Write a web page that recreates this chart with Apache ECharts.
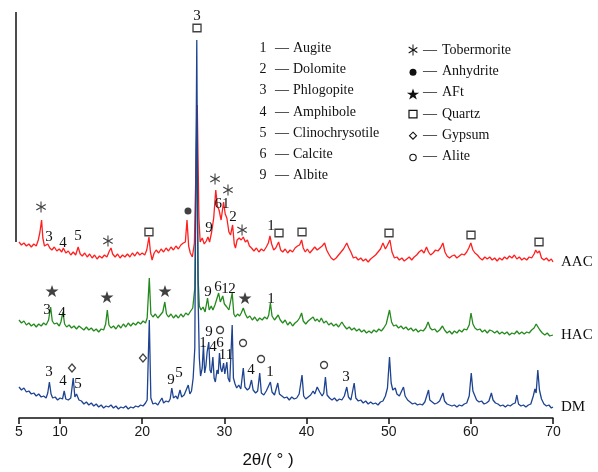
<!DOCTYPE html>
<html><head><meta charset="utf-8">
<script src="https://cdn.jsdelivr.net/npm/echarts@6/dist/echarts.min.js"></script>
<style>html,body{margin:0;padding:0;background:#fff}#c{width:598px;height:472px}</style>
</head><body><div id="c"></div><script>
// 2θ tick positions
const xTicks=[5,10,20,30,40,50,60,70];
// Intensities (arbitrary units, offset traces)
const dmData=[[5,31],[5.3,28],[5.6,30],[5.9,26],[6.2,27],[6.5,24],[6.8,25],[7.1,22],[7.4,24],[7.7,21],[8.0,22],[8.3,20],[8.5,25],[8.7,36],[8.9,24],[9.1,20],[9.4,21],[9.7,18],[10.0,20],[10.3,19],[10.5,27],[10.7,19],[11.0,18],[11.3,20],[11.6,40],[11.8,21],[12.0,24],[12.3,18],[12.6,17],[12.9,14],[13.2,16],[13.5,13],[13.8,15],[14.1,12],[14.4,14],[14.7,11],[15.0,13],[15.3,10],[15.6,12],[15.9,11],[16.2,13],[16.5,10],[16.8,12],[17.1,9],[17.4,11],[17.7,10],[18.0,12],[18.3,9],[18.6,11],[18.9,10],[19.2,12],[19.5,11],[19.8,13],[20.1,12],[20.4,15],[20.6,18],[20.86,98],[21.05,20],[21.3,14],[21.6,15],[21.9,13],[22.1,16],[22.4,20],[22.6,15],[22.9,17],[23.2,16],[23.4,19],[23.6,30],[23.8,20],[24.1,22],[24.3,19],[24.6,28],[24.8,21],[25.1,23],[25.3,21],[25.6,33],[25.8,24],[26.0,27],[26.2,40],[26.4,70],[26.64,378],[26.8,120],[26.95,60],[27.1,42],[27.3,50],[27.45,73],[27.6,45],[27.75,52],[27.9,66],[28.1,76],[28.25,48],[28.4,45],[28.6,61],[28.75,40],[28.9,36],[29.1,48],[29.25,44],[29.4,65],[29.55,50],[29.7,46],[29.9,55],[30.05,44],[30.3,56],[30.45,40],[30.65,36],[30.95,93],[31.1,40],[31.3,34],[31.5,30],[31.75,33],[32.0,29],[32.3,50],[32.5,31],[32.8,28],[33.05,30],[33.3,38],[33.5,28],[33.8,25],[34.05,27],[34.3,45],[34.5,25],[34.8,23],[35.1,27],[35.3,25],[35.6,36],[35.8,26],[36.1,23],[36.5,35],[36.7,24],[37.0,22],[37.3,20],[37.6,21],[37.9,18],[38.2,21],[38.5,19],[38.8,20],[39.1,24],[39.45,43],[39.65,22],[39.9,19],[40.2,21],[40.5,23],[40.8,27],[41.0,24],[41.3,31],[41.6,26],[41.9,22],[42.1,25],[42.3,41],[42.5,23],[42.8,20],[43.1,18],[43.4,20],[43.7,17],[44.0,19],[44.3,18],[44.6,22],[44.9,31],[45.1,21],[45.4,18],[45.8,35],[46.0,20],[46.3,17],[46.6,18],[46.9,15],[47.2,17],[47.5,14],[47.8,16],[48.1,14],[48.4,15],[48.7,13],[49.0,16],[49.3,17],[49.6,22],[49.85,30],[50.1,61],[50.3,35],[50.5,28],[50.8,30],[51.0,24],[51.3,22],[51.5,24],[51.8,31],[52.0,22],[52.3,18],[52.6,16],[52.9,14],[53.2,15],[53.5,13],[53.8,14],[54.1,13],[54.4,16],[54.85,28],[55.0,18],[55.3,16],[55.6,14],[55.9,15],[56.2,17],[56.6,25],[56.8,17],[57.1,14],[57.4,13],[57.7,12],[58.0,13],[58.3,11],[58.6,13],[58.9,12],[59.2,14],[59.5,15],[59.8,22],[60.05,45],[60.25,27],[60.5,22],[60.7,18],[61.0,16],[61.3,17],[61.6,14],[61.9,15],[62.2,17],[62.5,25],[62.7,18],[63.0,15],[63.3,14],[63.6,12],[63.9,13],[64.2,11],[64.5,13],[64.8,12],[65.1,14],[65.4,15],[65.6,23],[65.8,14],[66.1,12],[66.4,13],[66.7,11],[67.0,13],[67.3,14],[67.6,22],[67.8,29],[67.95,25],[68.15,48],[68.35,28],[68.6,19],[68.9,14],[69.2,12],[69.5,13],[69.8,10],[70,11]];
const hacData=[[5,98],[5.3,95],[5.6,97],[5.9,93],[6.2,95],[6.5,92],[6.8,94],[7.1,91],[7.4,94],[7.7,92],[8.0,95],[8.3,93],[8.6,98],[8.85,111],[9.05,97],[9.3,94],[9.6,95],[9.9,92],[10.1,96],[10.35,106],[10.55,94],[10.8,91],[11.1,93],[11.4,90],[11.7,92],[12.0,89],[12.3,92],[12.6,90],[12.9,88],[13.2,91],[13.5,88],[13.8,90],[14.1,87],[14.4,89],[14.7,86],[15.0,89],[15.3,88],[15.55,94],[15.75,108],[15.95,93],[16.2,90],[16.5,92],[16.8,89],[17.1,93],[17.4,90],[17.7,94],[18.0,91],[18.3,95],[18.6,92],[18.9,95],[19.2,93],[19.5,96],[19.8,94],[20.1,97],[20.4,95],[20.6,100],[20.86,140],[21.05,104],[21.3,101],[21.6,104],[21.9,100],[22.2,103],[22.5,106],[22.75,116],[22.95,104],[23.2,101],[23.5,104],[23.8,100],[24.1,103],[24.4,100],[24.7,104],[25.0,101],[25.3,105],[25.6,103],[25.9,107],[26.15,110],[26.4,130],[26.62,300],[26.8,140],[26.95,112],[27.15,108],[27.4,111],[27.65,106],[27.95,120],[28.15,108],[28.4,112],[28.6,108],[28.85,113],[29.05,111],[29.3,125],[29.5,116],[29.8,122],[30.0,114],[30.3,111],[30.55,108],[30.75,110],[30.95,125],[31.15,104],[31.35,101],[31.6,104],[31.85,102],[32.05,105],[32.3,110],[32.55,104],[32.8,100],[33.1,102],[33.4,98],[33.7,101],[34.0,97],[34.3,100],[34.6,98],[34.9,101],[35.2,99],[35.4,103],[35.6,115],[35.8,102],[36.1,98],[36.3,97],[36.55,103],[36.8,98],[37.1,95],[37.4,98],[37.7,93],[38.0,96],[38.3,92],[38.6,95],[38.9,97],[39.15,100],[39.4,105],[39.6,97],[39.9,94],[40.2,97],[40.5,99],[40.8,101],[41.05,97],[41.3,99],[41.55,96],[41.8,100],[42.1,95],[42.4,97],[42.7,93],[43.0,95],[43.3,92],[43.6,94],[43.9,91],[44.3,96],[44.6,92],[44.9,89],[45.2,91],[45.5,88],[45.8,90],[46.1,87],[46.4,89],[46.7,86],[47.0,88],[47.3,85],[47.6,87],[47.9,85],[48.2,88],[48.5,86],[48.8,89],[49.1,87],[49.4,90],[49.7,94],[50.1,108],[50.35,96],[50.6,92],[50.9,93],[51.2,90],[51.5,92],[51.8,89],[52.1,91],[52.4,88],[52.7,90],[53.0,87],[53.3,89],[53.6,86],[53.9,88],[54.2,87],[54.5,90],[54.8,96],[55.05,90],[55.3,88],[55.6,89],[55.9,86],[56.2,88],[56.55,92],[56.8,88],[57.1,85],[57.4,87],[57.7,84],[58.0,87],[58.3,85],[58.6,88],[58.9,86],[59.2,89],[59.5,88],[59.8,93],[60.02,105],[60.25,94],[60.5,90],[60.8,88],[61.1,89],[61.4,86],[61.7,88],[62.0,85],[62.3,88],[62.6,87],[62.9,85],[63.2,87],[63.5,84],[63.8,86],[64.1,84],[64.4,86],[64.7,83],[65.0,85],[65.3,84],[65.6,87],[65.9,84],[66.2,86],[66.5,84],[66.8,86],[67.1,85],[67.4,88],[67.7,90],[67.95,94],[68.15,92],[68.4,88],[68.7,85],[69.0,83],[69.3,85],[69.6,82],[70,83]];
const aacData=[[5,176],[5.3,173],[5.6,175],[5.9,172],[6.2,174],[6.5,171],[6.8,174],[7.1,172],[7.35,178],[7.55,186],[7.75,198],[7.9,180],[8.1,172],[8.3,170],[8.5,174],[8.75,170],[9.0,168],[9.3,171],[9.6,167],[9.9,169],[10.2,166],[10.4,170],[10.7,165],[11.0,167],[11.3,163],[11.6,166],[11.9,163],[12.2,171],[12.45,164],[12.7,162],[13.0,165],[13.3,161],[13.6,164],[13.9,160],[14.2,163],[14.5,159],[14.8,162],[15.1,160],[15.4,163],[15.7,161],[16.0,167],[16.2,170],[16.4,164],[16.7,161],[17.0,164],[17.3,160],[17.6,163],[17.9,161],[18.2,164],[18.5,161],[18.8,165],[19.1,162],[19.4,166],[19.7,163],[20.0,165],[20.3,163],[20.55,168],[20.82,181],[21.0,166],[21.2,158],[21.45,165],[21.7,168],[22.0,165],[22.3,169],[22.6,166],[22.9,170],[23.2,167],[23.5,171],[23.8,168],[24.1,172],[24.4,169],[24.7,173],[25.0,175],[25.25,176],[25.45,198],[25.65,172],[25.85,165],[26.1,161],[26.35,175],[26.7,313],[26.9,200],[27.05,176],[27.3,180],[27.55,174],[27.8,177],[28.0,181],[28.2,176],[28.45,186],[28.7,200],[28.95,228],[29.15,212],[29.35,208],[29.6,198],[29.9,216],[30.1,204],[30.3,200],[30.55,186],[30.75,183],[31.0,193],[31.2,174],[31.35,170],[31.55,178],[31.8,180],[32.05,178],[32.3,181],[32.55,176],[32.8,178],[33.05,172],[33.3,170],[33.6,167],[33.9,170],[34.2,166],[34.5,169],[34.8,167],[35.1,171],[35.35,175],[35.55,182],[35.75,174],[36.0,168],[36.25,170],[36.6,176],[36.85,168],[37.1,166],[37.4,169],[37.7,165],[38.0,168],[38.3,166],[38.6,170],[38.9,172],[39.15,173],[39.4,178],[39.6,170],[39.85,166],[40.1,169],[40.4,165],[40.7,168],[41.0,171],[41.3,168],[41.6,170],[41.9,172],[42.2,175],[42.45,168],[42.7,164],[43.0,160],[43.3,158],[43.6,160],[43.9,163],[44.2,166],[44.5,169],[44.9,175],[45.15,170],[45.4,166],[45.7,160],[46.0,161],[46.3,158],[46.6,160],[46.9,157],[47.2,159],[47.5,156],[47.8,159],[48.1,161],[48.4,163],[48.7,166],[49.0,169],[49.3,175],[49.6,169],[49.8,172],[50.15,178],[50.4,166],[50.7,160],[51.0,161],[51.3,158],[51.6,160],[51.9,157],[52.2,159],[52.5,161],[52.8,158],[53.1,161],[53.4,163],[53.7,166],[54.0,168],[54.3,165],[54.6,171],[54.85,166],[55.1,163],[55.4,165],[55.7,168],[56.0,167],[56.3,170],[56.6,175],[56.85,166],[57.1,162],[57.4,160],[57.7,162],[58.0,163],[58.3,160],[58.6,162],[58.9,164],[59.2,163],[59.5,166],[59.75,170],[60.0,175],[60.25,168],[60.5,165],[60.8,163],[61.1,160],[61.4,158],[61.7,161],[62.0,159],[62.3,161],[62.6,158],[62.9,160],[63.2,157],[63.5,160],[63.8,158],[64.1,161],[64.4,159],[64.7,162],[65.0,160],[65.3,163],[65.6,159],[65.9,161],[66.2,158],[66.5,160],[66.8,158],[67.1,161],[67.4,160],[67.7,164],[67.9,168],[68.1,165],[68.35,167],[68.6,160],[68.9,158],[69.2,160],[69.5,157],[69.8,159],[70,156]];
// Peak annotations: [2θ, height, text]
const numberMarks=[[26.67,402,'3'],
 [8.65,181,'3'],[10.36,175,'4'],[12.18,182,'5'],[28.13,190,'9'],[29.71,214,'61'],[31.05,201,'2'],[35.68,192,'1'],
 [8.41,108,'3'],[10.23,105,'4'],[28.01,126,'9'],[29.22,131,'6'],[30.08,129,'1'],[30.93,129,'2'],[35.68,119,'1'],
 [8.65,46,'3'],[10.36,37,'4'],[12.18,34,'5'],[23.50,38,'9'],[24.48,45,'5'],[27.40,75,'1'],[28.13,86,'9'],[28.62,71,'4'],[29.47,75,'6'],[30.20,63,'11'],[33.24,48,'4'],[35.55,46,'1'],[44.81,41,'3']];
const tobermoriteMarks=[[7.68,211],[15.83,177],[28.86,239],[30.44,228],[32.15,188]];
const anhydriteMarks=[[25.57,207]];
const aftMarks=[[9.02,127],[15.71,121],[22.77,127],[32.51,120]];
const quartzMarks=[[26.67,390],[20.82,186],[36.65,185],[39.45,186],[50.04,185],[60.02,183],[68.30,176]];
const gypsumMarks=[[11.45,50],[20.09,60]];
const aliteMarks=[[29.47,88],[32.27,75],[34.46,59],[42.13,53]];
// Key text
const phaseIds=['1','2','3','4','5','6','9'];
const phaseNames=['Augite','Dolomite','Phlogopite','Amphibole','Clinochrysotile','Calcite','Albite'];
const markerNames=['Tobermorite','Anhydrite','AFt','Quartz','Gypsum','Alite'];
const seriesNames=['DM','HAC','AAC'];

// Marker outlines in a 100x100 box
const asterBars=[[[45,0],[55,0],[55,100],[45,100]],[[4.2,27.6],[9.2,18.9],[95.8,68.9],[90.8,77.6]],[[90.8,22.4],[95.8,31.1],[9.2,81.1],[4.2,72.4]]];
const starPts=[[50,0],[61.23,34.55],[97.55,34.55],[68.17,55.9],[79.39,90.45],[50,69.1],[20.61,90.45],[31.83,55.9],[2.45,34.55],[38.77,34.55]];
const toPath=polys=>'path://'+polys.map(p=>'M'+p.map(q=>q[0]+' '+q[1]).join('L')+'Z').join(' ');
const ASTER=toPath(asterBars);
const STAR=toPath([starPts]);
const SERIF='"Liberation Serif","Times New Roman",serif';
const INK='#111';

function markSeries(data,symbol,size,filled){
  return {type:'scatter',data:data,symbol:symbol,symbolSize:size,z:5,clip:false,silent:true,
    itemStyle:filled?{color:INK,borderWidth:0}:{color:'#fff',borderColor:INK,borderWidth:1.3}};
}
const lineCommon={type:'line',showSymbol:false,symbol:'none',smooth:false,z:2,silent:true,
  endLabel:{show:true,formatter:'{a}',distance:8,fontFamily:SERIF,fontSize:15,color:INK}};

const chart=echarts.init(document.getElementById('c'),null,{renderer:'canvas'});
const graphics=[{type:'line',shape:{x1:16,y1:12,x2:16,y2:242},style:{stroke:INK,lineWidth:1.5}}];
phaseIds.forEach((id,i)=>{
  const y=48+21.3*i;
  graphics.push({type:'text',x:263,y:y,style:{text:id,fontFamily:SERIF,fontSize:14,fill:INK,align:'center',verticalAlign:'middle'}});
  graphics.push({type:'text',x:275,y:y,style:{text:'\u2014',fontFamily:SERIF,fontSize:14,fill:INK,align:'left',verticalAlign:'middle'}});
  graphics.push({type:'text',x:293,y:y,style:{text:phaseNames[i],fontFamily:SERIF,fontSize:14,fill:INK,align:'left',verticalAlign:'middle'}});
});
markerNames.forEach((nm,i)=>{
  const y=50+21.3*i;
  graphics.push({type:'text',x:423,y:y,style:{text:'\u2014',fontFamily:SERIF,fontSize:14,fill:INK,align:'left',verticalAlign:'middle'}});
  graphics.push({type:'text',x:442,y:y,style:{text:nm,fontFamily:SERIF,fontSize:14,fill:INK,align:'left',verticalAlign:'middle'}});
});
const ky=i=>50+21.3*i;
const place=(pts,x0,y0,w,h)=>pts.map(q=>[x0+q[0]*w/100,y0+q[1]*h/100]);
asterBars.forEach(b=>graphics.push({type:'polygon',shape:{points:place(b,408,ky(0)-5.5,10,11)},style:{fill:INK}}));
graphics.push({type:'circle',shape:{cx:413,cy:ky(1)+1,r:3.5},style:{fill:INK}});
graphics.push({type:'polygon',shape:{points:place(starPts,406.5,ky(2)-4,13,12)},style:{fill:INK}});
graphics.push({type:'rect',shape:{x:409,y:ky(3)-3.5,width:8,height:7.5},style:{fill:'#fff',stroke:INK,lineWidth:1.2}});
graphics.push({type:'polygon',shape:{points:[[413,ky(4)-3],[416.5,ky(4)+0.5],[413,ky(4)+4],[409.5,ky(4)+0.5]]},style:{fill:'#fff',stroke:INK,lineWidth:1.1}});
graphics.push({type:'circle',shape:{cx:413,cy:ky(5)+1,r:3.2},style:{fill:'#fff',stroke:INK,lineWidth:1.1}});

chart.setOption({
  animation:false,
  backgroundColor:'#fff',
  grid:{left:19,right:45,top:10,bottom:54,outerBoundsMode:'none',containLabel:false},
  xAxis:{type:'value',min:5,max:70,
    axisLine:{show:true,lineStyle:{color:INK,width:1.5}},
    axisTick:{show:true,customValues:xTicks,length:6,inside:false,lineStyle:{color:INK,width:1.5}},
    axisLabel:{customValues:xTicks,margin:7,fontFamily:'"Liberation Sans",Arial,sans-serif',fontSize:14,color:'#1a1a1a'},
    splitLine:{show:false},
    name:'2θ/( ° )',nameLocation:'middle',nameGap:34,
    nameTextStyle:{fontFamily:'"Liberation Sans",Arial,sans-serif',fontSize:17,color:INK,padding:[0,36,0,0]}},
  yAxis:{type:'value',min:0,max:408,show:false,splitLine:{show:false}},
  series:[
    Object.assign({},lineCommon,{name:seriesNames[1],data:hacData,lineStyle:{color:'#248a1e',width:1.3},itemStyle:{color:'#248a1e'}}),
    Object.assign({},lineCommon,{name:seriesNames[2],data:aacData,lineStyle:{color:'#ff1f1f',width:1.3},itemStyle:{color:'#ff1f1f'}}),
    Object.assign({},lineCommon,{name:seriesNames[0],data:dmData,lineStyle:{color:'#1d4391',width:1.3},itemStyle:{color:'#1d4391'},z:3}),
    {type:'scatter',data:numberMarks,symbolSize:1,z:6,clip:false,silent:true,itemStyle:{color:'transparent'},
      label:{show:true,position:'inside',formatter:p=>p.data[2],fontFamily:SERIF,fontSize:15,color:INK,
        textBorderWidth:0,textBorderColor:'transparent',opacity:1}},
    markSeries(tobermoriteMarks,ASTER,[10,11],true),
    markSeries(anhydriteMarks,'circle',7,true),
    markSeries(aftMarks,STAR,[13,12],true),
    markSeries(quartzMarks,'rect',[8,7.5],false),
    markSeries(gypsumMarks,'diamond',[7,8],false),
    markSeries(aliteMarks,'circle',7,false)
  ],
  graphic:graphics
});
</script></body></html>
